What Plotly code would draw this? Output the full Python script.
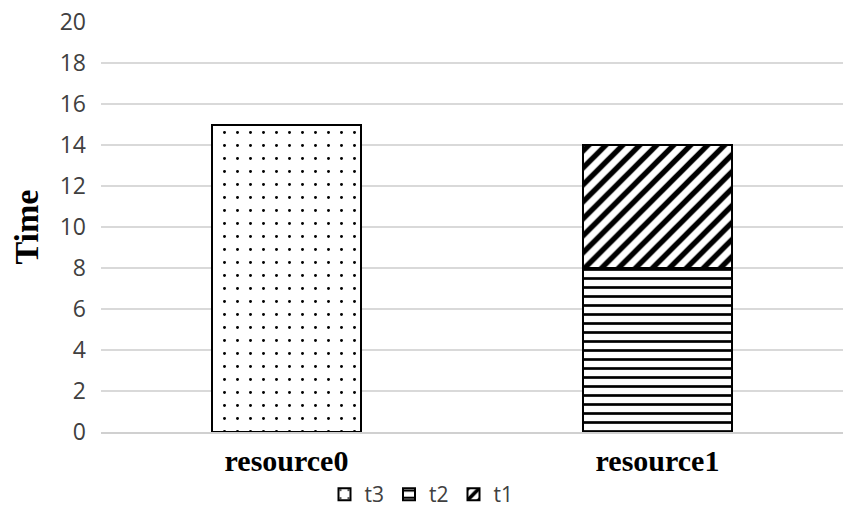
import plotly.graph_objects as go

# Stacked task times per resource
resources = ["resource0", "resource1"]
t3 = [15, 0]
t2 = [0, 8]
t1 = [0, 6]

y_ticks = list(range(0, 21, 2))

fig = go.Figure()

series = [
    ("t3", t3, dict(shape=".", size=13, solidity=0.04)),
    ("t2", t2, dict(shape="-", size=9, solidity=0.3)),
    ("t1", t1, dict(shape="/", size=12, solidity=0.45)),
]

for name, vals, pat in series:
    fig.add_trace(go.Bar(
        name=name,
        x=resources,
        y=vals,
        width=0.4,
        marker=dict(
            color="white",
            line=dict(color="black", width=2),
            pattern=dict(fgcolor="black", bgcolor="white", fillmode="replace", **pat),
        ),
    ))

fig.update_layout(
    barmode="stack",
    width=843,
    height=515,
    margin=dict(l=101, r=0, t=22, b=83, autoexpand=False),
    paper_bgcolor="white",
    plot_bgcolor="white",
    showlegend=True,
    legend=dict(
        orientation="h",
        xref="container",
        x=0.5,
        xanchor="center",
        yref="container",
        y=0.0,
        yanchor="bottom",
        traceorder="normal",
        font=dict(family="Open Sans", size=21, color="#404040"),
        itemwidth=30,
    ),
    xaxis=dict(
        automargin=False,
        showline=True,
        linecolor="#d0d0d0",
        linewidth=1.5,
        showgrid=False,
        ticks="",
        ticklabelstandoff=1,
        tickfont=dict(family="Liberation Serif", size=30, color="black", weight="bold"),
    ),
    yaxis=dict(
        automargin=False,
        range=[0, 20],
        tickvals=y_ticks,
        showgrid=True,
        gridcolor="#d9d9d9",
        gridwidth=1.5,
        zeroline=False,
        showline=False,
        ticks="",
        ticklabelstandoff=14,
        tickfont=dict(family="Open Sans", size=23, color="#404040"),
        title=dict(
            text="Time",
            standoff=10,
            font=dict(family="Liberation Serif", size=34, color="black", weight="bold"),
        ),
    ),
)

fig.write_html("out.html")
